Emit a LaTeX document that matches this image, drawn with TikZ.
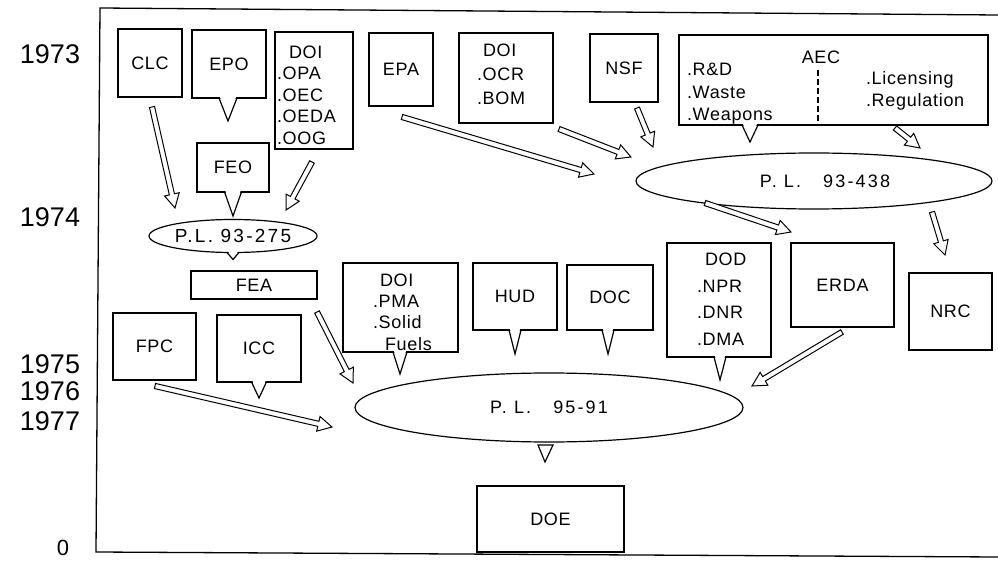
\documentclass[tikz,border=0pt]{standalone}
\usepackage{fontspec}
\setmainfont{Liberation Sans}[LetterSpace=4]
\newfontfamily\plainfont{Liberation Sans}
\newfontfamily\widefont{Liberation Sans}[LetterSpace=12]
\usetikzlibrary{calc,shapes.geometric}

% hollow (outline) arrow from #1 to #2
\newcommand\harr[2]{%
  \draw[harrow] let \p1=($(#2)-(#1)$), \n1={atan2(\y1,\x1)} in
    ($(#1)+(\n1+90:2.6)$) --
    ($(#2)+(\n1+180:14)+(\n1+90:2.6)$) --
    ($(#2)+(\n1+180:14)+(\n1+90:7.5)$) --
    (#2) --
    ($(#2)+(\n1+180:14)+(\n1-90:7.5)$) --
    ($(#2)+(\n1+180:14)+(\n1-90:2.6)$) --
    ($(#1)+(\n1-90:2.6)$) -- cycle;}

% callout pointer below node #1, x offset #2, depth #3, half width #4
\newcommand\callout[4]{%
  \fill[white] ($(#1.south)+(#2-#4+1,1)$) -- ($(#1.south)+(#2,-#3+1)$) -- ($(#1.south)+(#2+#4-1,1)$) -- cycle;
  \draw[pointer] ($(#1.south)+(#2-#4,0)$) -- ($(#1.south)+(#2,-#3)$) -- ($(#1.south)+(#2+#4,0)$);}

\begin{document}
\begin{tikzpicture}[x=1pt,y=1pt,
  every node/.style={inner sep=0pt, outer sep=0pt},
  box/.style={draw, line width=1.2pt, font=\fontsize{18}{21.5}\selectfont},
  txt/.style={align=left, anchor=west, font=\fontsize{18}{#1}\selectfont},
  txt/.default=21.5,
  law/.style={draw, ellipse, line width=1.2pt, font=\widefont\fontsize{18}{21}\selectfont},
  year/.style={font=\plainfont\fontsize{27}{30}\selectfont},
  harrow/.style={draw, line width=1pt, fill=white, line join=miter},
  frameline/.style={line width=1.3pt},
  pointer/.style={line width=1.2pt, line join=miter},
  divider/.style={line width=1.1pt, dash pattern=on 6pt off 3pt},
]
\useasboundingbox (0,0) rectangle (998,-561);

% frame
\coordinate (ftl) at (100,-8);
\coordinate (ftr) at (998,-15);
\coordinate (fbl) at (96,-552);
\coordinate (fbr) at (998,-557);
\draw[frameline] (ftr) -- (ftl) -- (fbl) -- (fbr);

% years
\node[year] (y1973) at (50,-54) {1973};
\node[year] (y1974) at (50,-217) {1974};
\node[year] (y1975) at (50,-364) {1975};
\node[year] (y1976) at (50,-391) {1976};
\node[year] (y1977) at (50,-421) {1977};
\node[font=\plainfont\fontsize{22}{24}\selectfont] (y0) at (63,-548) {0};

% 1973 row
\node[box, minimum width=64, minimum height=68] (clc) at (150,-63) {CLC};
\node[box, minimum width=74, minimum height=68] (epo) at (229,-64) {EPO};
\node[box, minimum width=78, minimum height=117] (doi1) at (314,-90.5) {};
\node[txt=21.5] (doi1t) at (277,-95) {\hspace*{12pt}DOI\\.OPA\\.OEC\\.OEDA\\.OOG};
\node[box, minimum width=72, minimum height=49] (feo) at (233,-167.5) {FEO};
\node[box, minimum width=64, minimum height=73] (epa) at (401,-69.5) {EPA};
\node[box, minimum width=94, minimum height=90] (doi2) at (506,-78) {};
\node[txt=24] (doi2t) at (477,-74) {\hspace*{6pt}DOI\\.OCR\\.BOM};
\node[box, minimum width=68, minimum height=68] (nsf) at (624,-68) {NSF};
\node[box, minimum width=309, minimum height=90] (aec) at (833.5,-80) {};
\node[font=\fontsize{18}{21}\selectfont] (aect) at (821,-57) {AEC};
\node[txt=22.5] (aecl) at (687,-94) {.R\&D\\.Waste\\.Weapons};
\node[txt=22] (aecr) at (866,-90.5) {.Licensing\\.Regulation};
\coordinate (dtop) at (818,-70);
\coordinate (dbot) at (818,-122);
\draw[divider] (dtop) -- (dbot);

% laws 1974
\node[law, minimum width=168, minimum height=33, font=\widefont\fontsize{19}{21}\selectfont] (pl275) at (233,-236) {P.L. 93-275};
\node[law, minimum width=356, minimum height=56] (pl438) at (814,-181) {\hspace*{22pt}P. L.\hspace{22pt}93-438};
\node[box, minimum width=126, minimum height=28] (fea) at (254,-285) {FEA};

% second row
\node[box, minimum width=115, minimum height=89] (doi3) at (400.5,-307.5) {};
\node[txt=21.3] (doi3t) at (373,-312) {\hspace*{7pt}DOI\\.PMA\\.Solid\\\hspace*{12pt}Fuels};
\node[box, minimum width=84, minimum height=67] (hud) at (515,-296.5) {HUD};
\node[box, minimum width=86, minimum height=65] (doc) at (610,-297.5) {DOC};
\node[box, minimum width=104, minimum height=114] (dod) at (719,-300) {};
\node[txt=26.5] (dodt) at (697,-299) {\hspace*{8pt}DOD\\.NPR\\.DNR\\.DMA};
\node[box, minimum width=103, minimum height=84] (erda) at (842.5,-285) {ERDA};
\node[box, minimum width=83, minimum height=77] (nrc) at (950.5,-311.5) {NRC};
\node[box, minimum width=83, minimum height=67] (fpc) at (154.5,-346.5) {FPC};
\node[box, minimum width=84, minimum height=67] (icc) at (259,-348.5) {ICC};

\node[law, minimum width=388, minimum height=69] (pl9591) at (549,-407.5) {P. L.\hspace{22pt}95-91};
\node[box, minimum width=147, minimum height=66] (doe) at (550.5,-519) {DOE};

% callout pointers
\callout{epo}{-1}{23}{9}
\callout{feo}{0}{24}{8.5}
\callout{aec}{-83.5}{17}{8}
\callout{doi3}{-0.5}{22}{7}
\callout{hud}{0}{24}{6}
\callout{doc}{-2}{24}{6}
\callout{dod}{1}{23}{6}
\callout{icc}{0}{16}{7.5}
\callout{pl275}{0}{7}{6}
\draw[pointer] ($(pl9591.south)+(-11,-3)$) -- ($(pl9591.south)+(4,-3)$) -- ($(pl9591.south)+(-4,-20)$) -- cycle;

% hollow arrows
\coordinate (a1s) at (152,-107);  \coordinate (a1e) at (175,-208);
\coordinate (a2s) at (312,-162);  \coordinate (a2e) at (286,-210);
\coordinate (a3s) at (402,-117);  \coordinate (a3e) at (594,-174);
\coordinate (a4s) at (559,-129);  \coordinate (a4e) at (631,-157);
\coordinate (a5s) at (637,-108);  \coordinate (a5e) at (653,-147);
\coordinate (a6s) at (895,-128);  \coordinate (a6e) at (920,-148);
\coordinate (a7s) at (705,-203);  \coordinate (a7e) at (791,-232);
\coordinate (a8s) at (932,-212);  \coordinate (a8e) at (945,-255);
\coordinate (a9s) at (317,-312);  \coordinate (a9e) at (353,-383);
\coordinate (a10s) at (155,-386); \coordinate (a10e) at (332,-427);
\coordinate (a11s) at (842,-332); \coordinate (a11e) at (752,-386);
\harr{a1s}{a1e}
\harr{a2s}{a2e}
\harr{a3s}{a3e}
\harr{a4s}{a4e}
\harr{a5s}{a5e}
\harr{a6s}{a6e}
\harr{a7s}{a7e}
\harr{a8s}{a8e}
\harr{a9s}{a9e}
\harr{a10s}{a10e}
\harr{a11s}{a11e}
\end{tikzpicture}
\end{document}
